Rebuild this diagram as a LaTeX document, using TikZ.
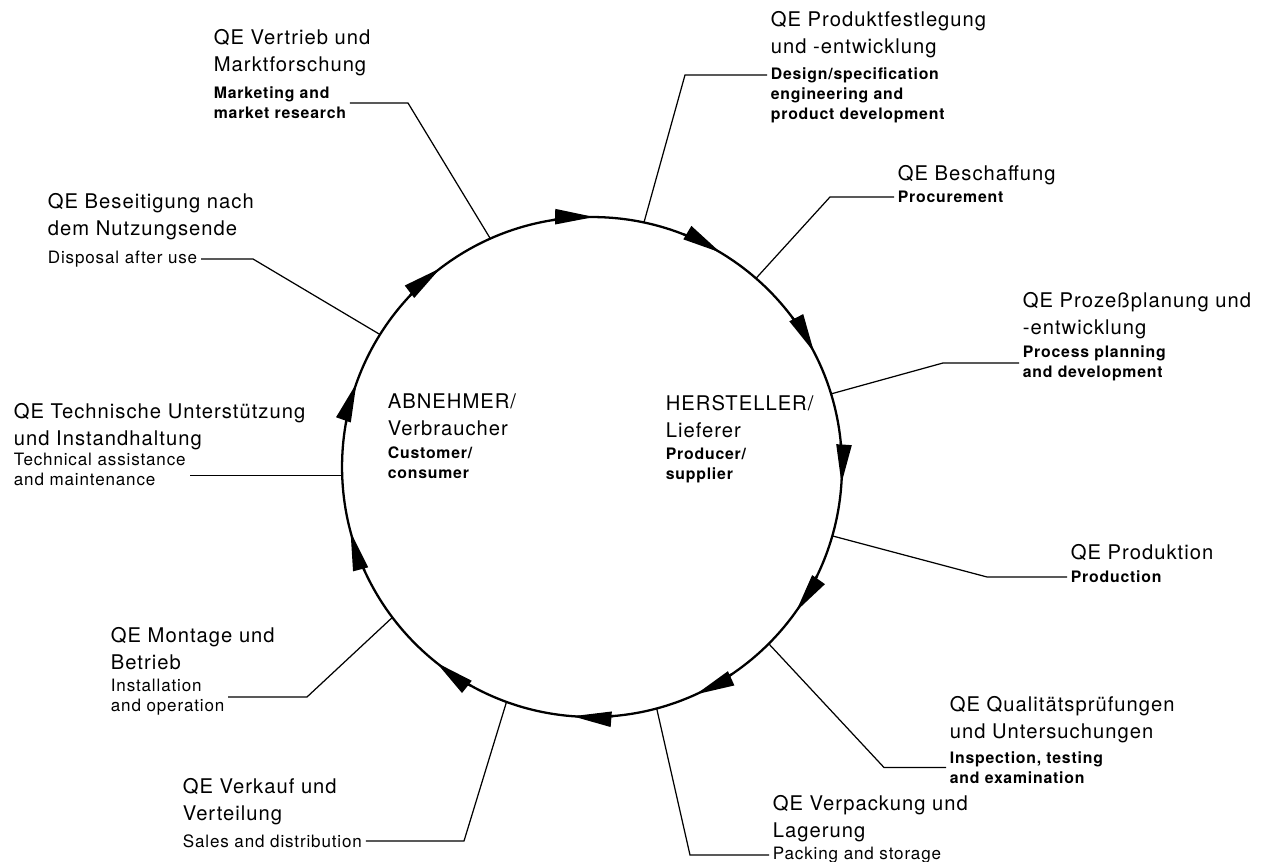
\documentclass[tikz,border=0pt]{standalone}
\usepackage{fontspec}
\usepackage{tikz}
\usetikzlibrary{calc, positioning, arrows.meta}
\newfontfamily\qefont[LetterSpace=5]{TeX Gyre Heros}
\tikzset{
  delabel/.style={align=left,anchor=west,inner xsep=2pt,inner ysep=0pt,
    font=\qefont\fontsize{11.5}{15.4}\selectfont},
  enlabel/.style={align=left,anchor=west,inner xsep=2pt,inner ysep=0pt,
    font=\qefont\bfseries\fontsize{9}{11.4}\selectfont},
  enlight/.style={enlabel,font=\qefont\fontsize{9.7}{11.4}\selectfont},
  leader/.style={line width=0.7pt},
  ring arrow/.style={line width=1.3pt,-{Triangle[length=0.78cm,width=0.3cm]}}
}
\begin{document}
\begin{tikzpicture}[x=0.02cm,y=0.02cm]
\useasboundingbox (0,0) rectangle (1276,862);

\node[circle,draw,line width=1.3pt,minimum size=10cm,inner sep=0pt,outer sep=0pt] (Ring) at (592,395) {};

% arrowheads, clockwise
\foreach \a in {94,63.5,31.8,0.7,-30.8,-61,-90,-124,-160.5,164.9,131.8}
  {\pgfmathsetmacro{\s}{\a+5}
   \pgfmathsetmacro{\e}{\a-4.5}
   \draw[ring arrow] ([shift={(Ring.center)}]\s:250) arc[start angle=\s,end angle=\e,radius=250];}

% inside the ring
\node[delabel] (CustomerDE) at (384,447.5) {ABNEHMER/\\Verbraucher};
\node[enlabel] (CustomerEN) at (384,399) {Customer/\\consumer};
\node[delabel] (SupplierDE) at (662,445.5) {HERSTELLER/\\Lieferer};
\node[enlabel] (SupplierEN) at (662,397) {Producer/\\supplier};

% right side
\node[delabel] (DesignDE) at (767,827.5) {QE Produktfestlegung\\und -entwicklung};
\node[enlabel] (DesignEN) at (767,767) {Design/specification\\engineering and\\product development};
\node[delabel] (ProcurementDE) at (894,687) {QE Beschaffung};
\node[enlabel] (ProcurementEN) at (894,665) {Procurement};
\node[delabel] (ProcessDE) at (1019,546.5) {QE Prozeßplanung und\\-entwicklung};
\node[enlabel] (ProcessEN) at (1019,499) {Process planning\\and development};
\node[delabel] (ProductionDE) at (1067,309) {QE Produktion};
\node[enlabel] (ProductionEN) at (1067,285) {Production};
\node[delabel] (InspectionDE) at (946,142) {QE Qualitätsprüfungen\\und Untersuchungen};
\node[enlabel] (InspectionEN) at (946,94.5) {Inspection, testing\\and examination};
\node[delabel] (PackingDE) at (769,43.5) {QE Verpackung und\\Lagerung};
\node[enlight] (PackingEN) at (769,7) {Packing and storage};

% left side
\node[delabel] (SalesDE) at (179,60) {QE Verkauf und\\Verteilung};
\node[enlight] (SalesEN) at (179,21) {Sales and distribution};
\node[delabel] (InstallDE) at (107,213.5) {QE Montage und\\Betrieb};
\node[enlight] (InstallEN) at (107,165) {Installation\\and operation};
\node[delabel] (TechnicalDE) at (10,435.5) {QE Technische Unterstützung\\und Instandhaltung};
\node[enlight] (TechnicalEN) at (10,393) {Technical assistance\\and maintenance};
\node[delabel] (DisposalDE) at (44,645.5) {QE Beseitigung nach\\dem Nutzungsende};
\node[enlight] (DisposalEN) at (44,603) {Disposal after use};
\node[delabel] (MarketingDE) at (210,809.5) {QE Vertrieb und\\Marktforschung};
\node[enlabel] (MarketingEN) at (210,759) {Marketing and\\market research};

\coordinate (DesignTap) at ($(DesignEN.west)+(0,20)$);

% leaders
\draw[leader] (Ring.78.2) -- (DesignTap -| 685,0) -- (DesignTap);
\draw[leader] (Ring.49.3) -- (ProcurementEN.west -| 830,0) -- (ProcurementEN.west);
\draw[leader] (Ring.17.6) -- (ProcessEN.west -| 943,0) -- (ProcessEN.west);
\draw[leader] (Ring.-16.2) -- (ProductionEN.west -| 987,0) -- (ProductionEN.west);
\draw[leader] (Ring.-45.8) -- (InspectionEN.west -| 884,0) -- (InspectionEN.west);
\draw[leader] (Ring.-75.9) -- (PackingEN.west -| 690,0) -- (PackingEN.west);
\draw[leader] (Ring.-110.6) -- (SalesEN.east -| 464,0) -- (SalesEN.east);
\draw[leader] (Ring.-143) -- (InstallEN.east -| 307,0) -- (InstallEN.east);
\draw[leader] (Ring.182.7) -- (Ring.182.7 -| TechnicalEN.east);
\draw[leader] (Ring.148.3) -- (DisposalEN.east -| 253,0) -- (DisposalEN.east);
\draw[leader] (Ring.114.8) -- (MarketingEN.east -| 408,0) -- (MarketingEN.east);

\end{tikzpicture}
\end{document}
